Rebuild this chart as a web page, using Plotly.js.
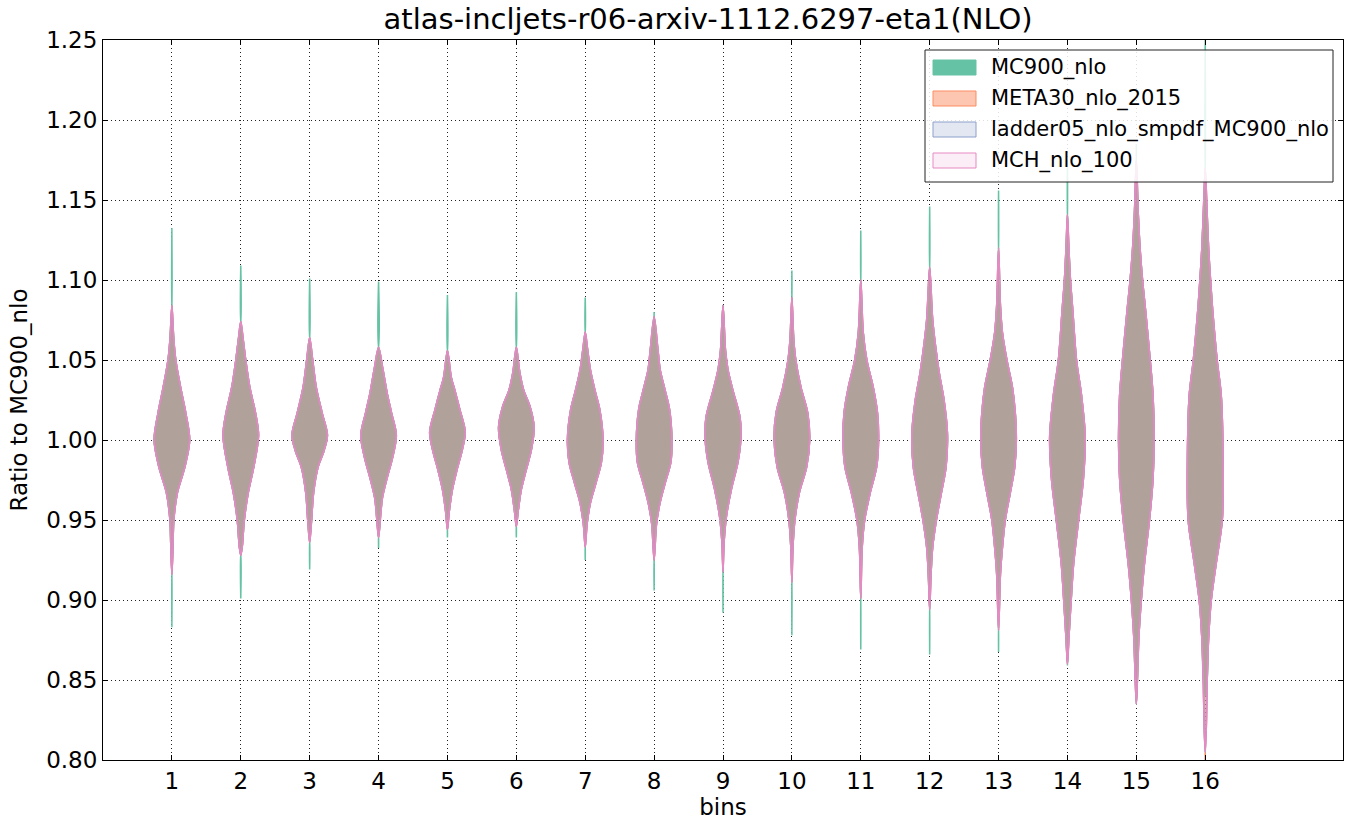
<!DOCTYPE html>
<html>
<head>
<meta charset="utf-8">
<script src="https://cdn.plot.ly/plotly-3.0.1.min.js"></script>
<style>html,body{margin:0;padding:0;background:#fff;}#chart{width:1353px;height:830px;}</style>
</head>
<body>
<div id="chart"></div>
<script>
// ---- data ----
const bins = [1, 2, 3, 4, 5, 6, 7, 8, 9, 10, 11, 12, 13, 14, 15, 16];
const tickLabels = ["1","2","3","4","5","6","7","8","9","10","11","12","13","14","15","16"];

// shared body profile of the (nearly identical) distributions: ratio levels (top to bottom) and relative density
const profY1 = [1.084, 1.0625, 1.05, 1.033, 1.017, 1.00, 0.983, 0.967, 0.95, 0.933, 0.916];
const profD1 = [0, .11, .22, .49, .78, 1, .73, .31, .11, .06, 0];
const profY2 = [1.074, 1.0625, 1.05, 1.033, 1.017, 1.003, 0.983, 0.967, 0.95, 0.933, 0.928];
const profD2 = [0, .14, .28, .51, .83, 1, .73, .42, .2, .08, 0];
const profY3 = [1.064, 1.05, 1.033, 1.017, 1.003, 0.993, 0.983, 0.967, 0.95, 0.936];
const profD3 = [0, .17, .37, .7, 1, .8, .47, .22, .11, 0];
const profY4 = [1.058, 1.044, 1.029, 1.017, 1.003, 0.989, 0.977, 0.964, 0.956, 0.939];
const profD4 = [0, .25, .49, .73, 1, .79, .5, .22, .14, 0];
const profY5 = [1.056, 1.039, 1.031, 1.019, 1.005, 0.994, 0.981, 0.969, 0.956, 0.944];
const profD5 = [0, .22, .42, .7, 1, .84, .53, .28, .11, 0];
const profY6 = [1.058, 1.042, 1.031, 1.021, 1.008, 0.994, 0.981, 0.969, 0.956, 0.946];
const profD6 = [0, .2, .42, .77, 1, .85, .55, .28, .11, 0];
const profY7 = [1.0675, 1.056, 1.044, 1.031, 1.019, 1.00, 0.986, 0.973, 0.961, 0.948, 0.933];
const profD7 = [0, .14, .29, .55, .82, 1, .91, .6, .3, .11, 0];
const profY8 = [1.077, 1.056, 1.044, 1.031, 1.019, 1.00, 0.986, 0.973, 0.961, 0.948, 0.925];
const profD8 = [0, .22, .34, .62, .87, 1, .94, .62, .34, .14, 0];
const profY9 = [1.084, 1.056, 1.044, 1.031, 1.014, 1.00, 0.986, 0.969, 0.952, 0.936, 0.9175];
const profD9 = [0, .14, .28, .56, .96, 1, .84, .47, .19, .06, 0];
const profY10 = [1.089, 1.062, 1.05, 1.033, 1.017, 1.00, 0.983, 0.967, 0.95, 0.933, 0.911];
const profD10 = [0, .11, .22, .51, .89, 1, .83, .42, .17, .06, 0];
const profY11 = [1.10, 1.067, 1.05, 1.033, 1.017, 1.00, 0.983, 0.967, 0.95, 0.933, 0.901];
const profD11 = [0, .14, .34, .7, .94, 1, .89, .53, .22, .08, 0];
const profY12 = [1.108, 1.075, 1.058, 1.042, 1.025, 1.004, 0.983, 0.967, 0.95, 0.933, 0.917, 0.894];
const profD12 = [0, .17, .34, .54, .81, 1, .92, .66, .38, .17, .08, 0];
const profY13 = [1.12, 1.083, 1.067, 1.05, 1.033, 1.017, 1.00, 0.983, 0.967, 0.95, 0.933, 0.917, 0.881];
const profD13 = [0, .11, .22, .47, .78, .94, 1, .91, .66, .38, .22, .11, 0];
const profY14 = [1.141, 1.12, 1.10, 1.081, 1.05, 1.028, 1.002, 0.976, 0.95, 0.923, 0.90, 0.876, 0.86];
const profD14 = [0, .08, .17, .3, .51, .79, 1, .9, .63, .35, .21, .08, 0];
const profY15 = [1.175, 1.141, 1.12, 1.10, 1.081, 1.05, 1.028, 1.00, 0.976, 0.95, 0.923, 0.90, 0.876, 0.85, 0.835];
const profD15 = [0, .11, .21, .35, .52, .78, .94, 1, .94, .74, .46, .28, .14, .06, 0];
const profY16 = [1.17, 1.141, 1.12, 1.10, 1.081, 1.05, 1.028, 0.99, 0.95, 0.923, 0.90, 0.876, 0.85, 0.82, 0.805];
const profD16 = [0, .11, .19, .3, .42, .67, .9, 1, .96, .62, .34, .19, .11, .06, 0];

// extents of each PDF set per bin
const mc900Min = [0.883, 0.901, 0.919, 0.9325, 0.939, 0.939, 0.925, 0.906, 0.892, 0.878, 0.869, 0.866, 0.8675, 0.859, 0.835, 0.84];
const mc900Max = [1.1325, 1.109, 1.101, 1.099, 1.0906, 1.0925, 1.089, 1.08, 1.084, 1.106, 1.131, 1.146, 1.156, 1.175, 1.185, 1.25];
const meta30Min = [0.916, 0.928, 0.936, 0.939, 0.944, 0.946, 0.933, 0.925, 0.9175, 0.911, 0.901, 0.894, 0.881, 0.86, 0.835, 0.80];
const meta30Max = [1.084, 1.074, 1.064, 1.058, 1.056, 1.058, 1.0675, 1.077, 1.084, 1.089, 1.10, 1.108, 1.12, 1.141, 1.175, 1.17];
const ladderMin = [0.916, 0.928, 0.936, 0.939, 0.944, 0.946, 0.933, 0.925, 0.9175, 0.911, 0.901, 0.894, 0.881, 0.86, 0.835, 0.805];
const ladderMax = [1.084, 1.074, 1.064, 1.058, 1.056, 1.058, 1.0675, 1.077, 1.084, 1.089, 1.10, 1.108, 1.12, 1.141, 1.175, 1.17];
const mchMin = [0.916, 0.928, 0.936, 0.939, 0.944, 0.946, 0.933, 0.925, 0.9175, 0.911, 0.901, 0.894, 0.881, 0.86, 0.835, 0.805];
const mchMax = [1.084, 1.074, 1.064, 1.058, 1.056, 1.058, 1.0675, 1.077, 1.084, 1.089, 1.10, 1.108, 1.12, 1.141, 1.175, 1.17];

const seriesNames = ["MC900_nlo", "META30_nlo_2015", "ladder05_nlo_smpdf_MC900_nlo", "MCH_nlo_100"];

// ---- drawing ----
const profY = [profY1,profY2,profY3,profY4,profY5,profY6,profY7,profY8,profY9,profY10,profY11,profY12,profY13,profY14,profY15,profY16];
const profD = [profD1,profD2,profD3,profD4,profD5,profD6,profD7,profD8,profD9,profD10,profD11,profD12,profD13,profD14,profD15,profD16];
const HALF = 0.258; // max half width of a violin (x units)

function violinPath(mins, maxs) {
  const xs = [], ys = [];
  bins.forEach((b, i) => {
    const pts = [[maxs[i], 0]];
    profY[i].forEach((y, k) => { if (y < maxs[i] && y > mins[i]) pts.push([y, profD[i][k]]); });
    pts.push([mins[i], 0]);
    pts.forEach(p => { xs.push(b + p[1] * HALF); ys.push(p[0]); });
    for (let k = pts.length - 2; k >= 1; k--) { xs.push(b - pts[k][1] * HALF); ys.push(pts[k][0]); }
    xs.push(b); ys.push(maxs[i]);
    xs.push(null); ys.push(null);
  });
  return {xs, ys};
}

const styles = [
  {line: "#66c2a5", fill: "rgba(102,194,165,1)"},
  {line: "#fc8d62", fill: "rgba(252,141,98,0.5)"},
  {line: "#8da0cb", fill: "rgba(141,160,203,0.25)"},
  {line: "#e78ac3", fill: "rgba(231,138,195,0.15)"}
];
const extents = [[mc900Min, mc900Max], [meta30Min, meta30Max], [ladderMin, ladderMax], [mchMin, mchMax]];

const traces = extents.map((e, s) => {
  const p = violinPath(e[0], e[1]);
  return {
    type: "scatter", mode: "lines", x: p.xs, y: p.ys, name: seriesNames[s],
    fill: "toself", fillcolor: styles[s].fill, showlegend: false,
    line: {color: styles[s].line, width: 1.5, shape: "spline", smoothing: 0.9}, hoverinfo: "skip"
  };
});

// ---- legend drawn as in the reference (patches + labels) ----
const M = {l: 103, r: 10, t: 40, b: 70}, W = 1353, H = 830;
const PW = W - M.l - M.r, PH = H - M.t - M.b;
const px = x => (x - M.l) / PW, py = y => (H - M.b - y) / PH;
const shapes = [{
  type: "rect", xref: "paper", yref: "paper", layer: "above",
  x0: px(925), x1: px(1333), y0: py(182), y1: py(50),
  fillcolor: "rgba(255,255,255,0.85)", line: {color: "#222", width: 1}
}];
const annotations = [];
seriesNames.forEach((n, s) => {
  const cy = 67.5 + s * 31;
  shapes.push({
    type: "rect", xref: "paper", yref: "paper", layer: "above",
    x0: px(933), x1: px(976), y0: py(cy + 7.5), y1: py(cy - 7.5),
    fillcolor: styles[s].fill, line: {color: styles[s].line, width: 1}
  });
  annotations.push({
    xref: "paper", yref: "paper", x: px(989), y: py(cy), xanchor: "left", yanchor: "middle",
    text: n, showarrow: false, font: {size: 21, color: "#000"}
  });
});

const axisCommon = {
  showline: true, mirror: "ticks", linecolor: "#000", linewidth: 1,
  ticks: "inside", ticklen: 5, tickcolor: "#000",
  showgrid: true, gridcolor: "#222", griddash: "1px,3px", gridwidth: 1,
  zeroline: false, tickfont: {size: 23, color: "#000"}
};

const layout = {
  width: W, height: H,
  margin: M,
  paper_bgcolor: "#fff", plot_bgcolor: "#fff",
  font: {family: "DejaVu Sans", color: "#000"},
  title: {text: "atlas-incljets-r06-arxiv-1112.6297-eta1(NLO)", font: {size: 29, color: "#000"}, xref: "paper", x: 0.488, xanchor: "center", y: 0.977, yanchor: "middle"},
  xaxis: Object.assign({}, axisCommon, {
    range: [0, 18], tickmode: "array", tickvals: bins, ticktext: tickLabels,
    title: {text: "bins", font: {size: 23}, standoff: 4}
  }),
  yaxis: Object.assign({}, axisCommon, {
    range: [0.8, 1.25], tickmode: "linear", tick0: 0.8, dtick: 0.05, tickformat: ".2f",
    title: {text: "Ratio to MC900_nlo", font: {size: 23}, standoff: 12}
  }),
  showlegend: false,
  shapes: shapes,
  annotations: annotations
};

Plotly.newPlot("chart", traces, layout, {displayModeBar: false, staticPlot: true});
</script>
</body>
</html>
